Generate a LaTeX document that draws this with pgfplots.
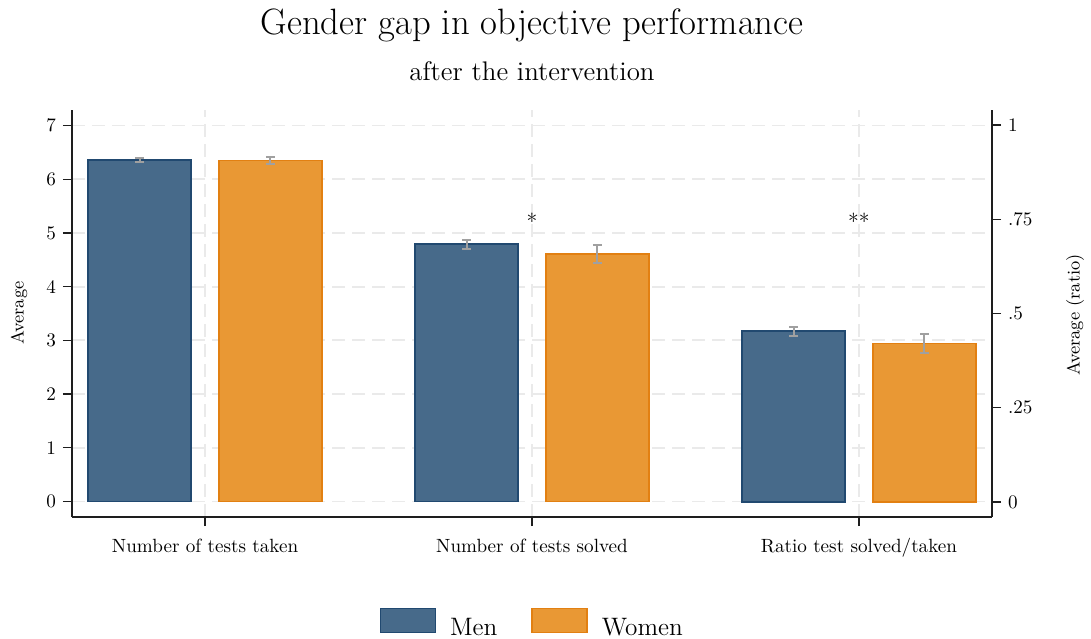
\documentclass[border=0pt]{standalone}
\usepackage{fontspec}
\usepackage{pgfplots}
\usepackage{pgfplotstable}
\pgfplotsset{compat=1.18}
\definecolor{menfill}{RGB}{71,106,138}
\definecolor{mendraw}{RGB}{33,73,112}
\definecolor{womfill}{RGB}{233,152,52}
\definecolor{womdraw}{RGB}{226,128,18}
\definecolor{errc}{RGB}{160,160,160}
\definecolor{gridc}{RGB}{234,234,234}
\definecolor{axc}{RGB}{30,30,30}

\pgfplotstableread{
x y e
0.8 6.36 0.04
1.8 4.79 0.087
}\men
\pgfplotstableread{
x y e
1.2 6.35 0.065
2.2 4.61 0.17
}\women
\pgfplotstableread{
x y e
2.8 0.453 0.012
}\menratio
\pgfplotstableread{
x y e
3.2 0.421 0.025
}\womenratio

\pgfplotsset{
  base/.style={
    at={(36bp,61bp)}, anchor=south west, scale only axis,
    width=460bp, height=203.5bp,
    xmin=0.593, xmax=3.407,
    axis line style={axc, line width=0.75bp, -},
    tick style={axc, line width=0.75bp},
    major tick length=4.5bp,
    tick align=outside,
    ticklabel style={font=\fontsize{9.6}{11}\selectfont},
    /pgf/number format/assume math mode=true,
    ybar, bar width=0.315, bar shift=0pt,
  },
  errs/.style={
    error bars/.cd, y dir=both, y explicit,
    error bar style={errc, line width=1bp},
    error mark options={errc, rotate=90, mark size=2.25bp, line width=1bp},
  },
}

\begin{document}
\begin{tikzpicture}
\useasboundingbox (0,0) rectangle (545.5bp,319.5bp);
\begin{axis}[
  base,
  ymin=-0.29, ymax=7.29,
  axis x line*=bottom, axis y line*=left,
  xtick={1,2,3},
  xticklabels={Number of tests taken, Number of tests solved, Ratio test solved/taken},
  xticklabel style={text height=6.7bp, text depth=2bp, yshift=-3bp},
  ytick={0,1,2,3,4,5,6,7},
  grid=major,
  major grid style={gridc, line width=0.9bp, dash pattern=on 6.5bp off 3.5bp},
  legend image code/.code={\draw[#1] (0bp,-2.05bp) rectangle (27.5bp,9.95bp);},
  legend columns=2,
  legend style={at={(0.5013,-0.2219)}, anchor=north, draw=none, fill=none,
    font=\fontsize{12.66}{15}\selectfont, inner sep=0pt,
    /tikz/every odd column/.append style={column sep=5bp},
    /tikz/every even column/.append style={column sep=15bp}},
]
\addplot[fill=menfill, draw=mendraw, line width=0.75bp, errs]
  table[x=x, y=y, y error=e] {\men};
\addlegendentry{Men}
\addplot[fill=womfill, draw=womdraw, line width=0.75bp, errs]
  table[x=x, y=y, y error=e] {\women};
\addlegendentry{Women}
\node[anchor=base, font=\fontsize{11}{13}\selectfont] at (axis cs:2,5.07) {*};
\node[anchor=base, font=\fontsize{11}{13}\selectfont] at (axis cs:3,5.07) {**};
\end{axis}
\begin{axis}[
  base,
  ymin=-0.04, ymax=1.04,
  axis y line*=right, axis x line=none,
  ytick={0,0.25,0.5,0.75,1},
  yticklabels={0,.25,.5,.75,1},
]
\addplot[fill=menfill, draw=mendraw, line width=0.75bp, errs]
  table[x=x, y=y, y error=e] {\menratio};
\addplot[fill=womfill, draw=womdraw, line width=0.75bp, errs]
  table[x=x, y=y, y error=e] {\womenratio};
\end{axis}
\node[anchor=base, font=\fontsize{18.4}{22}\selectfont] at (266bp,302bp) {Gender gap in objective performance};
\node[anchor=base, font=\fontsize{13.5}{16}\selectfont] at (266bp,279bp) {after the intervention};
\node[rotate=90, font=\fontsize{9}{11}\selectfont] at (9.5bp,163bp) {Average};
\node[rotate=90, font=\fontsize{9}{11}\selectfont] at (537.5bp,162bp) {Average (ratio)};
\end{tikzpicture}
\end{document}
